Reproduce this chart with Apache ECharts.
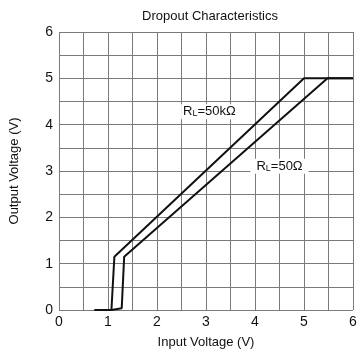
<!DOCTYPE html>
<html>
<head>
<meta charset="utf-8">
<script src="https://cdn.jsdelivr.net/npm/echarts@6/dist/echarts.min.js"></script>
<style>
  html, body { margin: 0; padding: 0; background: #fff; }
  #chart { width: 361px; height: 354px; }
</style>
</head>
<body>
<div id="chart"></div>
<script>
// input voltage (V) / output voltage (V) for each load
const vin50k = [0.72, 1.07, 1.13, 5.0, 6.0];
const vout50k = [0, 0, 1.15, 5.0, 5.0];
const vin50 = [1.07, 1.28, 1.33, 5.48, 6.0];
const vout50 = [0, 0.04, 1.15, 5.0, 5.0];

const font = "Liberation Sans, Arial, sans-serif";
const pairs = (xs, ys) => xs.map((x, i) => [x, ys[i]]);
const intOnly = (v) => (Number.isInteger(v) ? String(v) : "");

const chart = echarts.init(document.getElementById("chart"), null, { renderer: "canvas" });

chart.setOption({
  animation: false,
  title: {
    text: "Dropout Characteristics",
    left: 205,
    top: 5,
    textAlign: "center",
    textStyle: { fontFamily: font, fontSize: 13, fontWeight: "normal", color: "#111" },
  },
  grid: { left: 58, right: 8, top: 32, bottom: 42 },
  xAxis: {
    type: "value",
    min: 0,
    max: 6,
    interval: 0.5,
    name: "Input Voltage (V)",
    nameLocation: "middle",
    nameGap: 26,
    nameTextStyle: { fontFamily: font, fontSize: 13, color: "#111" },
    axisLabel: { formatter: intOnly, fontFamily: font, fontSize: 14, color: "#111", margin: 5 },
    axisLine: { show: false },
    axisTick: { show: false },
    splitLine: { lineStyle: { color: "#7a7a7a", width: 1 } },
  },
  yAxis: {
    type: "value",
    min: 0,
    max: 6,
    interval: 0.5,
    name: "Output Voltage (V)",
    nameLocation: "middle",
    nameGap: 38,
    nameTextStyle: { fontFamily: font, fontSize: 13, color: "#111" },
    axisLabel: { formatter: intOnly, fontFamily: font, fontSize: 14, color: "#111", margin: 6 },
    axisLine: { show: false },
    axisTick: { show: false },
    splitLine: { lineStyle: { color: "#7a7a7a", width: 1 } },
  },
  series: [
    {
      type: "line",
      data: pairs(vin50k, vout50k),
      symbol: "none",
      lineStyle: { color: "#111", width: 2 },
      markPoint: {
        symbol: "rect",
        symbolSize: 1,
        itemStyle: { color: "transparent" },
        data: [{ coord: [3.07, 4.28] }],
        label: {
          show: true,
          formatter: "R{s|L}=50kΩ",
          fontFamily: font,
          fontSize: 13,
          color: "#111",
          backgroundColor: "#fff",
          padding: [1, 2],
          rich: { s: { fontFamily: font, fontSize: 9, color: "#111", verticalAlign: "bottom", padding: [4, 0, 0, 0] } },
        },
      },
    },
    {
      type: "line",
      data: pairs(vin50, vout50),
      symbol: "none",
      lineStyle: { color: "#111", width: 2 },
      markPoint: {
        symbol: "rect",
        symbolSize: 1,
        itemStyle: { color: "transparent" },
        data: [{ coord: [4.5, 3.1] }],
        label: {
          show: true,
          formatter: "R{s|L}=50Ω",
          fontFamily: font,
          fontSize: 13,
          color: "#111",
          backgroundColor: "#fff",
          padding: [1, 6],
          rich: { s: { fontFamily: font, fontSize: 9, color: "#111", verticalAlign: "bottom", padding: [4, 0, 0, 0] } },
        },
      },
    },
  ],
});
</script>
</body>
</html>
